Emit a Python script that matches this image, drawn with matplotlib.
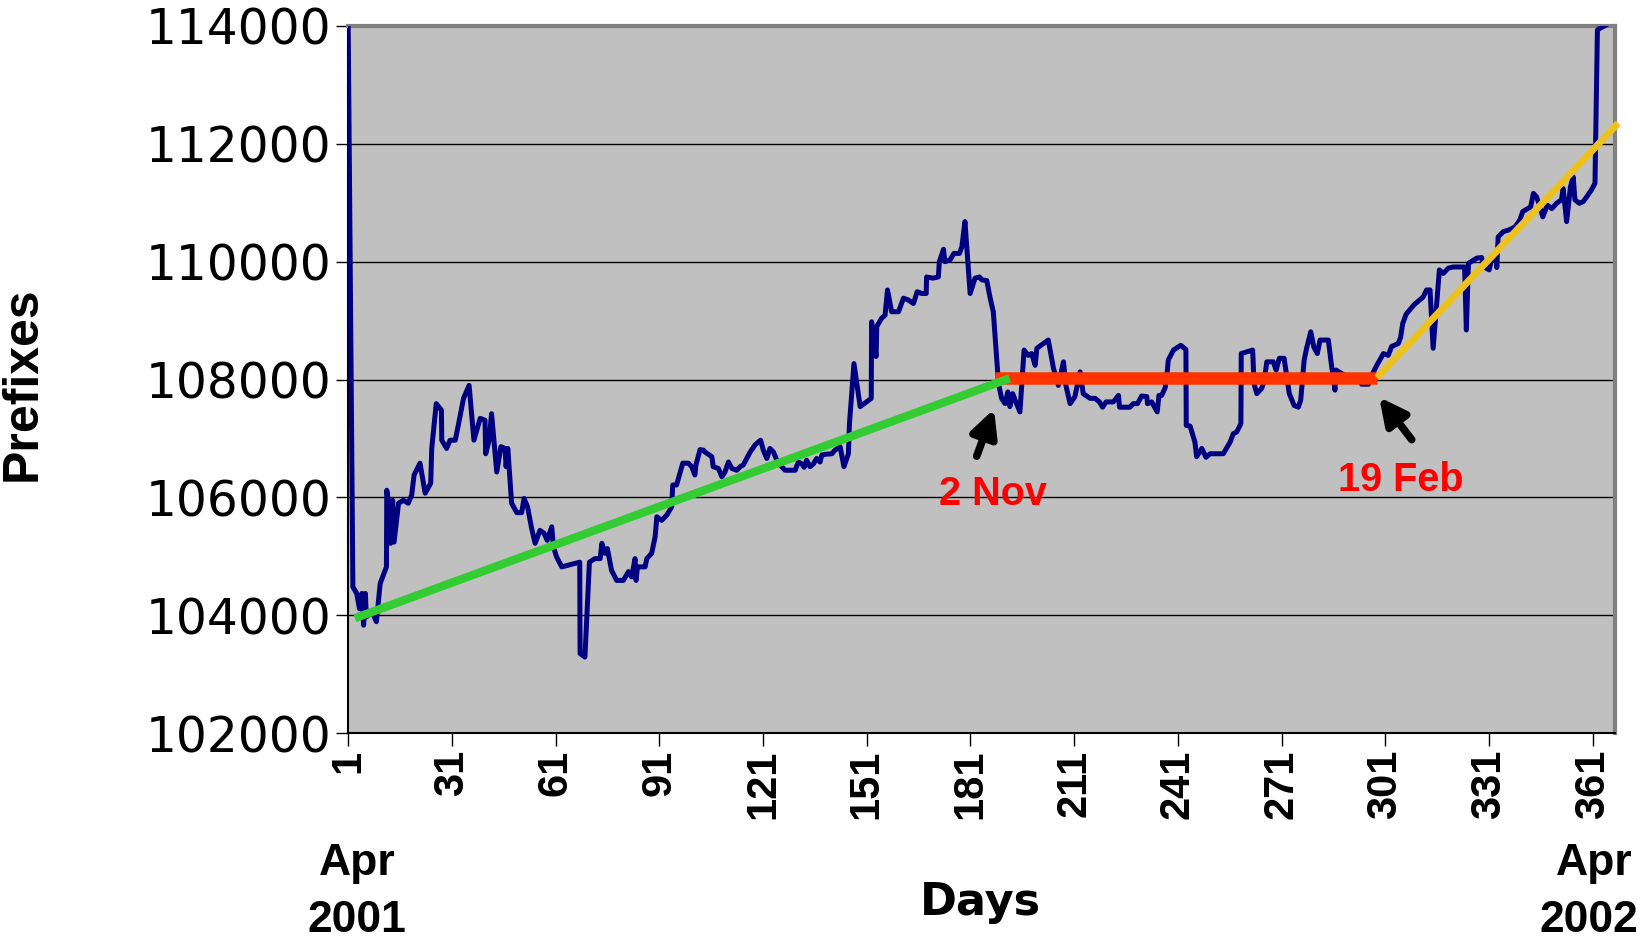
import matplotlib.pyplot as plt

# daily prefix counts
days = [1.0, 2.4, 3.5, 4.3, 5.0, 5.5, 6.0, 6.3, 7.9, 9.2, 10.3, 12.1, 12.2, 12.9, 13.3, 13.9, 14.3,
        15.6, 17.0, 18.4, 19.4, 20.1, 21.8, 23.3, 24.9, 25.2, 26.5, 28.0, 28.1, 29.5, 30.5, 32.0,
        32.9, 34.4, 36.0, 37.4, 39.2, 40.6, 40.8, 41.8, 42.5, 44.0, 45.2, 46.4, 46.7, 47.2, 48.3,
        49.8, 51.2, 51.9, 52.9, 54.1, 55.1, 56.5, 57.7, 58.6, 59.9, 60.4, 61.3, 62.8, 68.0, 68.1,
        69.5, 70.8, 72.4, 73.9, 74.4, 75.3, 76.0, 77.2, 78.7, 80.6, 82.1, 83.0, 84.0, 84.3, 84.7,
        86.9, 87.4, 88.8, 89.8, 90.3, 91.7, 93.2, 94.6, 94.9, 96.0, 97.8, 99.4, 100.4, 101.3, 101.6,
        102.8, 103.8, 104.2, 106.2, 106.6, 108.1, 109.1, 110.0, 111.0, 112.0, 113.4, 114.4, 115.3,
        117.3, 118.7, 120.3, 121.1, 122.1, 123.0, 124.0, 125.0, 126.4, 127.4, 130.3, 131.2, 132.2,
        132.9, 133.6, 134.6, 135.6, 136.5, 137.5, 138.0, 139.0, 140.9, 141.8, 143.3, 144.4, 145.7,
        146.0, 147.3, 149.1, 152.3, 152.4, 153.7, 153.9, 155.3, 156.3, 157.0, 158.2, 160.2, 161.6,
        163.0, 164.5, 165.6, 166.9, 168.2, 168.3, 170.1, 171.7, 172.0, 173.2, 173.6, 175.1, 176.2,
        177.8, 178.5, 179.4, 180.9, 182.3, 183.6, 184.3, 185.7, 186.7, 187.6, 189.1, 190.0, 191.0,
        191.8, 192.4, 193.2, 193.9, 195.3, 196.5, 197.7, 198.7, 199.7, 200.2, 202.1, 203.5, 205.0,
        206.4, 207.9, 208.6, 209.8, 211.2, 212.7, 213.6, 215.6, 217.0, 218.3, 219.2, 220.2, 222.3,
        223.8, 224.1, 227.1, 228.1, 229.3, 230.5, 232.0, 232.2, 233.4, 235.0, 235.5, 236.3, 237.3,
        237.9, 238.2, 239.7, 241.8, 243.3, 243.4, 244.5, 245.9, 246.4, 247.9, 249.1, 250.3, 254.1,
        256.1, 257.0, 258.0, 259.2, 259.3, 262.6, 263.0, 263.8, 265.2, 265.9, 266.7, 268.6, 269.4,
        270.3, 271.7, 273.2, 274.6, 275.8, 276.5, 277.5, 278.2, 279.4, 280.3, 281.3, 282.1, 284.5,
        285.2, 286.4, 286.7, 289.8, 293.6, 294.1, 296.1, 297.0, 298.5, 300.4, 301.8, 302.8, 304.7,
        305.4, 306.0, 307.0, 309.3, 311.9, 312.9, 313.9, 314.8, 316.6, 317.7, 319.2, 320.6, 323.9,
        324.4, 325.0, 327.4, 328.8, 329.5, 331.0, 331.7, 333.0, 333.2, 333.6, 335.1, 336.8, 338.5,
        339.9, 340.7, 343.0, 343.8, 344.7, 345.7, 346.5, 347.1, 347.8, 349.1, 350.5, 351.9, 352.4,
        353.4, 354.5, 355.3, 355.8, 357.1, 358.2, 359.2, 360.6, 361.6, 362.3, 363.0, 365.0, 366.0]
prefixes = [114300, 104480, 104370, 104110, 104370, 103830, 104370, 103970, 104060, 103890, 104540,
            104820, 106120, 105840, 105220, 105950, 105240, 105900, 105950, 105900, 106040, 106380,
            106580, 106070, 106240, 106830, 107590, 107480, 106970, 106830, 106970, 106970, 107230,
            107680, 107900, 106970, 107340, 107310, 106740, 106970, 107420, 106430, 106860, 106830,
            106520, 106830, 105900, 105740, 105740, 105980, 105840, 105470, 105220, 105440, 105390,
            105270, 105500, 105160, 104990, 104820, 104900, 103350, 103290, 104900, 104960, 104960,
            105220, 105050, 105130, 104760, 104590, 104590, 104740, 104650, 104960, 104590, 104820,
            104820, 104960, 105050, 105330, 105670, 105610, 105700, 105840, 106210, 106210, 106580,
            106580, 106520, 106380, 106550, 106810, 106800, 106770, 106690, 106520, 106490, 106350,
            106430, 106600, 106490, 106460, 106520, 106550, 106770, 106890, 106970, 106800, 106660,
            106830, 106770, 106630, 106520, 106460, 106460, 106600, 106570, 106510, 106630, 106520,
            106570, 106660, 106600, 106720, 106730, 106740, 106800, 106860, 106520, 106740, 107250,
            108270, 107540, 107680, 108980, 108390, 108900, 109040, 109090, 109520, 109150, 109150,
            109380, 109350, 109290, 109490, 109460, 109460, 109740, 109720, 109740, 110000, 110210,
            110000, 110030, 110140, 110140, 110250, 110680, 109460, 109720, 109740, 109690, 109680,
            109380, 109150, 107930, 107680, 107590, 107790, 107540, 107760, 107650, 107450, 108500,
            108410, 108440, 108240, 108530, 108610, 108670, 108190, 107900, 108300, 107900, 107590,
            107710, 108130, 107760, 107680, 107680, 107620, 107530, 107620, 107620, 107730, 107530,
            107530, 107590, 107590, 107720, 107710, 107590, 107620, 107450, 107730, 107730, 107860,
            108130, 108330, 108500, 108580, 108510, 107220, 107210, 106940, 106690, 106830, 106680,
            106740, 106740, 106940, 107080, 107110, 107250, 108440, 108500, 107930, 107760, 107850,
            107960, 108300, 108300, 108160, 108360, 108360, 107760, 107560, 107530, 107650, 108330,
            108530, 108810, 108550, 108440, 108670, 108670, 108330, 107820, 108160, 108050, 107990,
            107920, 107920, 108070, 108240, 108440, 108410, 108560, 108610, 108720, 108950, 109110,
            109270, 109400, 109520, 109520, 108530, 109860, 109800, 109890, 109910, 109910, 108840,
            109970, 110060, 110070, 109910, 109860, 110040, 110080, 109900, 110420, 110510, 110540,
            110590, 110710, 110850, 110930, 111160, 111100, 110930, 110760, 110850, 110960, 110900,
            110990, 111050, 111240, 110680, 111270, 111440, 111050, 110990, 111020, 111100, 111220,
            111330, 113930, 113960, 114020, 114100]

# trend segments drawn over the data
green_days = [3.0, 192.3]
green_vals = [103950, 108020]
red_days = [188.1, 298.5]
red_vals = [108030, 108030]
yellow_days = [298.5, 368.3]
yellow_vals = [108030, 112350]

xticks = [1, 31, 61, 91, 121, 151, 181, 211, 241, 271, 301, 331, 361]
yticks = [102000, 104000, 106000, 108000, 110000, 112000, 114000]

fig = plt.figure(figsize=(16.48, 9.41), dpi=100)
ax = fig.add_axes([0.2112, 0.221, 0.7688, 0.7514])
ax.set_facecolor('#C0C0C0')

ax.plot(days, prefixes, color='#000080', lw=3.6, zorder=3, solid_joinstyle='round')
ax.plot(red_days, red_vals, color='#FF3300', lw=9, zorder=4, solid_capstyle='butt')
ax.plot(green_days, green_vals, color='#33CC33', lw=6, zorder=5, solid_capstyle='butt')
ax.plot(yellow_days, yellow_vals, color='#EEC21E', lw=5, zorder=5, solid_capstyle='butt',
        clip_on=False)

ax.set_xlim(1, 367.4)
ax.set_ylim(102000, 114000)
ax.set_xticks(xticks)
ax.set_yticks(yticks)
ax.set_xticklabels([str(t) for t in xticks], rotation=90, fontsize=30,
                   fontweight='bold', family='Liberation Sans')
ax.set_yticklabels([str(t) for t in yticks], fontsize=35, family='DejaVu Sans')
ax.tick_params(direction='out', length=9, width=1, color='black', pad=3)
ax.grid(axis='y', color='black', lw=1)
ax.set_axisbelow(True)

for s in ['top', 'right']:
    ax.spines[s].set_color('#808080')
    ax.spines[s].set_linewidth(3)
for s in ['left', 'bottom']:
    ax.spines[s].set_color('black')
    ax.spines[s].set_linewidth(1.5)

# annotations
arrow = dict(arrowstyle='-|>', color='black', lw=5.5, mutation_scale=40, shrinkA=0, shrinkB=0)
ax.annotate('', xy=(187.8, 107500), xytext=(182.8, 106700), arrowprops=arrow)
ax.text(187.4, 106050, '2 Nov', color='red', fontsize=28.5, fontweight='bold',
        family='Liberation Sans', ha='center', va='center')
ax.annotate('', xy=(299.2, 107700), xytext=(308.6, 106980), arrowprops=arrow)
ax.text(305.5, 106290, '19 Feb', color='red', fontsize=28.5, fontweight='bold',
        family='Liberation Sans', ha='center', va='center')

fig.text(23 / 1648, 1 - 384 / 941, 'Prefixes', rotation=90, fontsize=36, fontweight='bold',
         family='Liberation Sans', ha='center', va='center')
fig.text(980 / 1648, 1 - 902 / 941, 'Days', fontsize=32, fontweight='bold',
         family='DejaVu Sans', ha='center', va='center')
fig.text(357 / 1648, 1 - 864 / 941, 'Apr', fontsize=32, fontweight='bold',
         family='Liberation Sans', ha='center', va='center')
fig.text(357 / 1648, 1 - 920 / 941, '2001', fontsize=32, fontweight='bold',
         family='Liberation Sans', ha='center', va='center')
fig.text(1594 / 1648, 1 - 864 / 941, 'Apr', fontsize=32, fontweight='bold',
         family='Liberation Sans', ha='center', va='center')
fig.text(1589 / 1648, 1 - 920 / 941, '2002', fontsize=32, fontweight='bold',
         family='Liberation Sans', ha='center', va='center')

fig.savefig('out.png', dpi=100)
